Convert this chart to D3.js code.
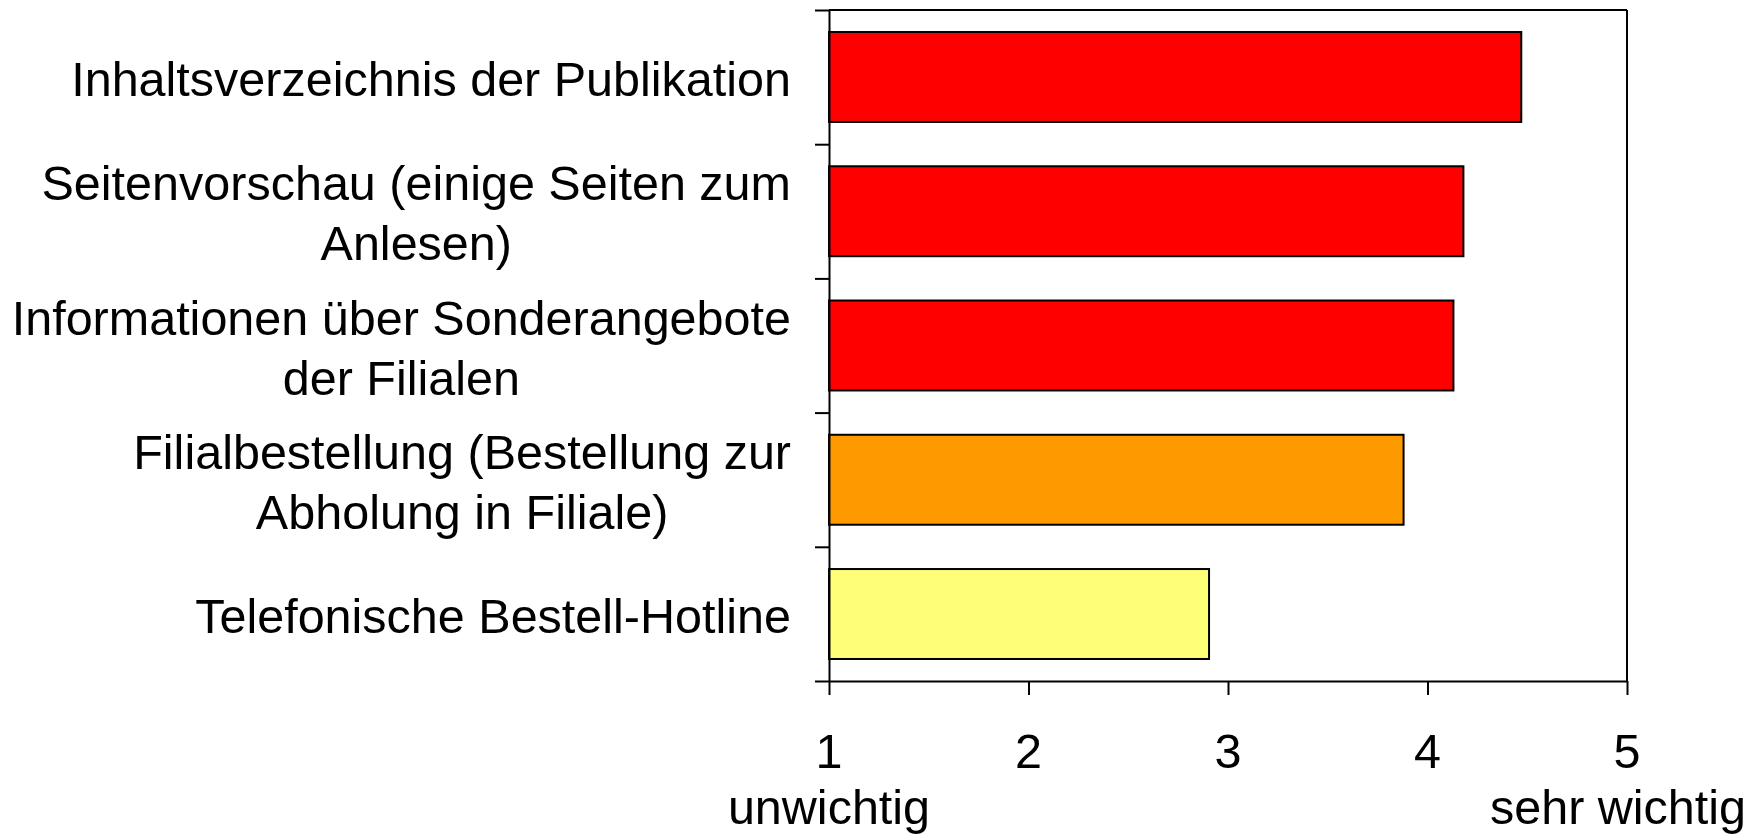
<!DOCTYPE html>
<html>
<head>
<meta charset="utf-8">
<script src="https://cdn.jsdelivr.net/npm/d3@7"></script>
<style>
  body { margin: 0; background: #fff; }
  svg { display: block; font-family: Arial, "Liberation Sans", sans-serif; }
</style>
</head>
<body>
<div id="holder"></div>
<script>
// categories, top to bottom (line breaks as in the original)
const categories = [
    ["Inhaltsverzeichnis der Publikation"],
    ["Seitenvorschau (einige Seiten zum", "Anlesen)"],
    ["Informationen über Sonderangebote", "der Filialen"],
    ["Filialbestellung (Bestellung zur", "Abholung in Filiale)"],
    ["Telefonische Bestell-Hotline"]
];
const values = [4.47, 4.18, 4.13, 3.88, 2.905];
const barColors = ["#ff0000", "#ff0000", "#ff0000", "#ff9900", "#ffff77"];
const xTicks = [1, 2, 3, 4, 5];
const xSubLabels = { 1: "unwichtig", 5: "sehr wichtig" };

const width = 1760;
const height = 835;
const plotLeft = 829, plotRight = 1627, plotTop = 10, plotBottom = 681;
const fontSize = 48.5;

const svg = d3.select("#holder")
    .append("svg")
    .attr("width", width)
    .attr("height", height);

const keys = categories.map((d, i) => i);

const xScale = d3.scaleLinear()
    .domain([1, 5])
    .range([plotLeft, plotRight]);

const yScale = d3.scaleBand()
    .domain(keys)
    .range([plotTop, plotBottom])
    .paddingInner(0.33)
    .paddingOuter(0.164);

// boundaries between categories, for the little ticks on the left
const edgeScale = d3.scaleLinear()
    .domain([0, categories.length])
    .range([plotTop, plotBottom]);

// bars
svg.selectAll("rect.bar")
    .data(values)
    .enter()
    .append("rect")
    .attr("class", "bar")
    .attr("x", xScale(1))
    .attr("y", (d, i) => yScale(i))
    .attr("width", (d) => xScale(d) - xScale(1))
    .attr("height", yScale.bandwidth())
    .attr("fill", (d, i) => barColors[i])
    .attr("stroke", "#000")
    .attr("stroke-width", 2);

// frame: top and right lines
svg.append("line")
    .attr("x1", plotLeft).attr("x2", plotRight)
    .attr("y1", plotTop).attr("y2", plotTop)
    .attr("stroke", "#000").attr("stroke-width", 2);
svg.append("line")
    .attr("x1", plotRight).attr("x2", plotRight)
    .attr("y1", plotTop).attr("y2", plotBottom)
    .attr("stroke", "#000").attr("stroke-width", 2);

// left axis with ticks between categories
const yAxis = d3.axisLeft(edgeScale)
    .tickValues(d3.range(categories.length + 1))
    .tickSize(14)
    .tickSizeOuter(0)
    .tickFormat("");
const gy = svg.append("g")
    .attr("transform", `translate(${plotLeft},0)`)
    .call(yAxis);
gy.select(".domain").attr("stroke-width", 2);
gy.selectAll(".tick line").attr("stroke-width", 2);

// bottom axis
const xAxis = d3.axisBottom(xScale)
    .tickValues(xTicks)
    .tickSize(14)
    .tickSizeOuter(0)
    .tickFormat("");
const gx = svg.append("g")
    .attr("transform", `translate(0,${plotBottom})`)
    .call(xAxis);
gx.select(".domain").attr("stroke-width", 2);
gx.selectAll(".tick line").attr("stroke-width", 2);

svg.selectAll("text.xlab")
    .data(xTicks)
    .enter()
    .append("text")
    .attr("class", "xlab")
    .attr("x", (d) => xScale(d))
    .attr("y", plotBottom + 87)
    .attr("text-anchor", "middle")
    .attr("font-size", fontSize)
    .attr("fill", "#000")
    .text((d) => d);

svg.selectAll("text.xsub")
    .data(xTicks.filter((d) => xSubLabels[d]))
    .enter()
    .append("text")
    .attr("class", "xsub")
    .attr("x", (d) => xScale(d) + (d === 5 ? -9 : 0))
    .attr("y", plotBottom + 143)
    .attr("text-anchor", "middle")
    .attr("font-size", fontSize)
    .attr("fill", "#000")
    .text((d) => xSubLabels[d]);

// category labels
const labelRight = 791;
const lineGap = 60;
const labels = svg.selectAll("text.ylab")
    .data(categories)
    .enter()
    .append("text")
    .attr("class", "ylab")
    .attr("text-anchor", "end")
    .attr("font-size", fontSize)
    .attr("fill", "#000");

labels.each(function (lines, i) {
    const cy = yScale(i) + yScale.bandwidth() / 2;
    const y0 = cy - (lines.length - 1) * lineGap / 2;
    d3.select(this).selectAll("tspan")
        .data(lines)
        .enter()
        .append("tspan")
        .attr("x", labelRight)
        .attr("y", (d, j) => y0 + j * lineGap + 19)
        .text((d) => d);
});

// second lines are centred under the first line
labels.each(function (lines) {
    if (lines.length < 2) return;
    const spans = d3.select(this).selectAll("tspan").nodes();
    const w0 = spans[0].getComputedTextLength();
    const mid = labelRight - w0 / 2;
    d3.select(spans[1]).attr("x", mid).attr("text-anchor", "middle");
});
</script>
</body>
</html>
